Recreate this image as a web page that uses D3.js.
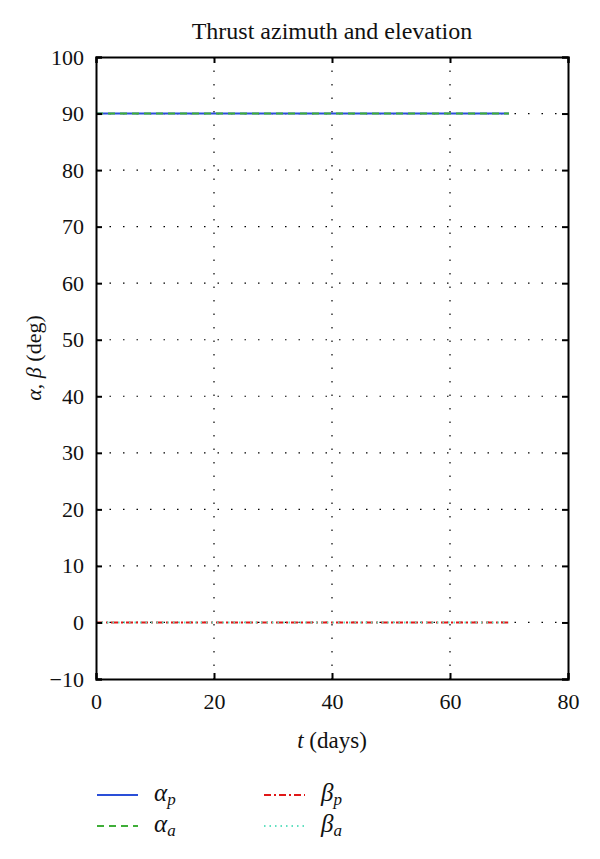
<!DOCTYPE html>
<html>
<head>
<meta charset="utf-8">
<script src="https://cdn.jsdelivr.net/npm/d3@7"></script>
<style>
  body { margin: 0; background: #fff; }
  text { font-family: "Liberation Serif", "DejaVu Serif", serif; fill: #111; }
</style>
</head>
<body>
<svg id="chart" width="600" height="859"></svg>
<script>
const svgWidth = 600;
const svgHeight = 859;

// data
const days = [0, 10, 20, 30, 40, 50, 60, 70];
const alphaP = [90, 90, 90, 90, 90, 90, 90, 90];
const alphaA = [90, 90, 90, 90, 90, 90, 90, 90];
const betaP = [0, 0, 0, 0, 0, 0, 0, 0];
const betaA = [0, 0, 0, 0, 0, 0, 0, 0];

const xTicks = [0, 20, 40, 60, 80];
const yTicks = [-10, 0, 10, 20, 30, 40, 50, 60, 70, 80, 90, 100];

const series = [
    { name: "α", sub: "p", values: alphaP, color: "#2a4fd8", dash: null },
    { name: "α", sub: "a", values: alphaA, color: "#3fae38", dash: "7,5" },
    { name: "β", sub: "p", values: betaP, color: "#e01818", dash: "7,3,2,3" },
    { name: "β", sub: "a", values: betaA, color: "#5fe0c0", dash: "1.5,4" }
];

const plot = { left: 96, right: 568, top: 57, bottom: 679 };

const xScale = d3.scaleLinear()
    .domain([0, 80])
    .range([plot.left, plot.right]);

const yScale = d3.scaleLinear()
    .domain([-10, 100])
    .range([plot.bottom, plot.top]);

const svg = d3.select("#chart");

// grid
svg.append("g").selectAll("line")
    .data(xTicks.filter(t => t > 0 && t < 80))
    .enter().append("line")
    .attr("x1", d => xScale(d)).attr("x2", d => xScale(d))
    .attr("y1", plot.top).attr("y2", plot.bottom)
    .attr("stroke", "#000").attr("stroke-width", 1.2)
    .attr("stroke-dasharray", "1.5,12");

svg.append("g").selectAll("line")
    .data(yTicks.filter(t => t > -10 && t < 100))
    .enter().append("line")
    .attr("x1", plot.left).attr("x2", plot.right)
    .attr("y1", d => yScale(d)).attr("y2", d => yScale(d))
    .attr("stroke", "#000").attr("stroke-width", 1.2)
    .attr("stroke-dasharray", "1.5,12");

// series
const line = d3.line()
    .x((d, i) => xScale(days[i]))
    .y(d => yScale(d));

series.forEach(s => {
    svg.append("path")
        .attr("d", line(s.values))
        .attr("fill", "none")
        .attr("stroke", s.color)
        .attr("stroke-width", 2)
        .attr("stroke-dasharray", s.dash);
});

// axes (ticks inside, box)
const bottomAxis = d3.axisBottom(xScale).tickValues(xTicks).tickSize(-6).tickPadding(14);
const leftAxis = d3.axisLeft(yScale).tickValues(yTicks).tickSize(-6).tickPadding(12)
    .tickFormat(d => d < 0 ? "\u2212" + Math.abs(d) : d);

const gx = svg.append("g").attr("transform", `translate(0,${plot.bottom})`).call(bottomAxis);
const gy = svg.append("g").attr("transform", `translate(${plot.left},0)`).call(leftAxis);
const gTop = svg.append("g").attr("transform", `translate(0,${plot.top})`)
    .call(d3.axisTop(xScale).tickValues(xTicks).tickSize(-6).tickFormat(""));
const gRight = svg.append("g").attr("transform", `translate(${plot.right},0)`)
    .call(d3.axisRight(yScale).tickValues(yTicks).tickSize(-6).tickFormat(""));

[gx, gy, gTop, gRight].forEach(g => {
    g.select(".domain").attr("stroke", "#000").attr("stroke-width", 2);
    g.selectAll(".tick line").attr("stroke", "#000").attr("stroke-width", 2);
    g.selectAll("text")
        .style("font-family", '"Liberation Serif", "DejaVu Serif", serif')
        .style("font-size", "22px").attr("fill", "#111");
});

// title
svg.append("text")
    .attr("x", (plot.left + plot.right) / 2).attr("y", 39)
    .attr("text-anchor", "middle").style("font-size", "24px")
    .text("Thrust azimuth and elevation");

// x label
const xl = svg.append("text")
    .attr("x", (plot.left + plot.right) / 2).attr("y", 748)
    .attr("text-anchor", "middle").style("font-size", "23px");
xl.append("tspan").attr("font-style", "italic").text("t");
xl.append("tspan").text(" (days)");

// y label
const yl = svg.append("text")
    .attr("transform", `translate(41,358) rotate(-90)`)
    .attr("text-anchor", "middle").style("font-size", "22px");
yl.append("tspan").attr("font-style", "italic").text("α");
yl.append("tspan").text(", ");
yl.append("tspan").attr("font-style", "italic").text("β");
yl.append("tspan").text(" (deg)");

// legend
const legendPos = [[97, 795], [97, 826], [264, 795], [264, 826]];
series.forEach((s, i) => {
    const [lx, ly] = legendPos[i];
    svg.append("line")
        .attr("x1", lx).attr("x2", lx + 41)
        .attr("y1", ly).attr("y2", ly)
        .attr("stroke", s.color).attr("stroke-width", 2)
        .attr("stroke-dasharray", s.dash);
    const t = svg.append("text")
        .attr("x", lx + 57).attr("y", ly + 6)
        .style("font-size", "25px");
    t.append("tspan").attr("font-style", "italic").text(s.name);
    t.append("tspan").attr("font-style", "italic").attr("font-size", "17px")
        .attr("dy", 4).text(s.sub);
});
</script>
</body>
</html>
